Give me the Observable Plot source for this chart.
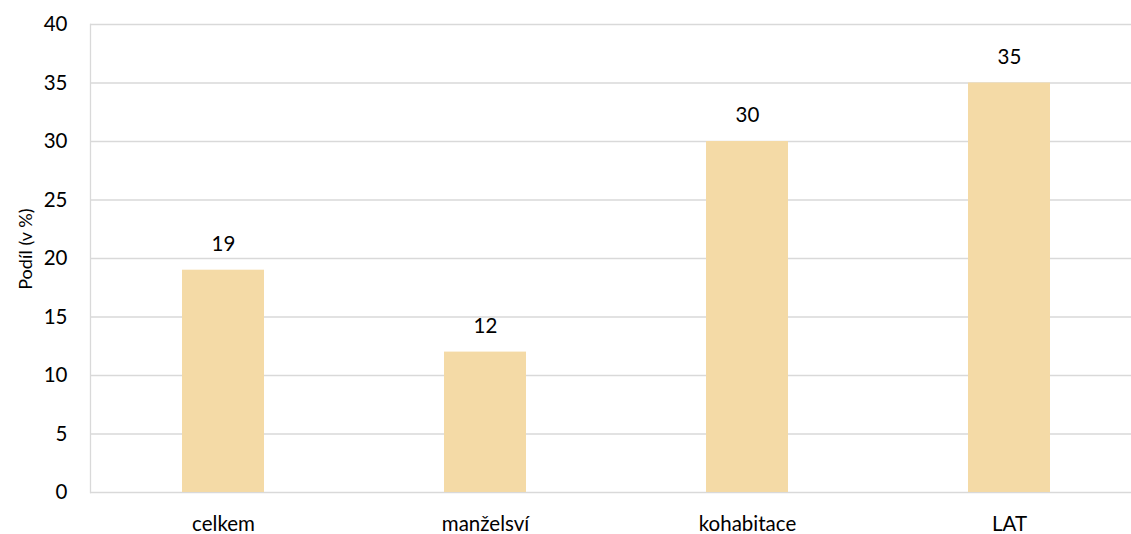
<!DOCTYPE html>
<html>
<head>
<meta charset="utf-8">
<script src="https://cdn.jsdelivr.net/npm/d3@7"></script>
<script src="https://cdn.jsdelivr.net/npm/@observablehq/plot@0.6"></script>
<style>
  html, body { margin: 0; padding: 0; background: #fff; }
  #chart svg { display: block; }
</style>
</head>
<body>
<div id="chart"></div>
<script>
const categories = ["celkem", "manželsví", "kohabitace", "LAT"];
const values = [19, 12, 30, 35];
const yTicks = [0, 5, 10, 15, 20, 25, 30, 35, 40];
const yLabel = "Podíl (v %)";

const data = categories.map((c, i) => ({category: c, value: values[i]}));

const chart = Plot.plot({
  width: 1131,
  height: 534,
  marginTop: 24,
  marginBottom: 42,
  marginLeft: 90,
  marginRight: 0,
  style: {fontFamily: "Lato, 'Open Sans', sans-serif", fontSize: "20px", color: "#000", background: "#fff"},
  x: {domain: categories, range: [90.4, 1141.2], paddingInner: 0.688, paddingOuter: 0.344, align: 0.5, label: null},
  y: {domain: [0, 40], label: null},
  marks: [
    Plot.ruleY(yTicks, {stroke: "#d9d9d9", strokeWidth: 1.3}),
    Plot.frame({anchor: "left", stroke: "#d9d9d9", strokeWidth: 1.3}),
    Plot.barY(data, {x: "category", y: "value", fill: "#F4DAA6"}),
    Plot.text(data, {x: "category", y: "value", text: d => String(d.value), dy: -26, fontSize: 20.5, fill: "#000"}),
    Plot.axisY(yTicks, {tickSize: 0, tickPadding: 23, fontSize: 20.5, label: null}),
    Plot.text([yLabel], {y: [20.8], frameAnchor: "left", dx: -64, rotate: -90, textAnchor: "middle", fontSize: 18, fill: "#000"}),
    Plot.axisX({tickSize: 0, tickPadding: 23.5, fontSize: 20.5})
  ]
});
document.getElementById("chart").appendChild(chart);
</script>
</body>
</html>
